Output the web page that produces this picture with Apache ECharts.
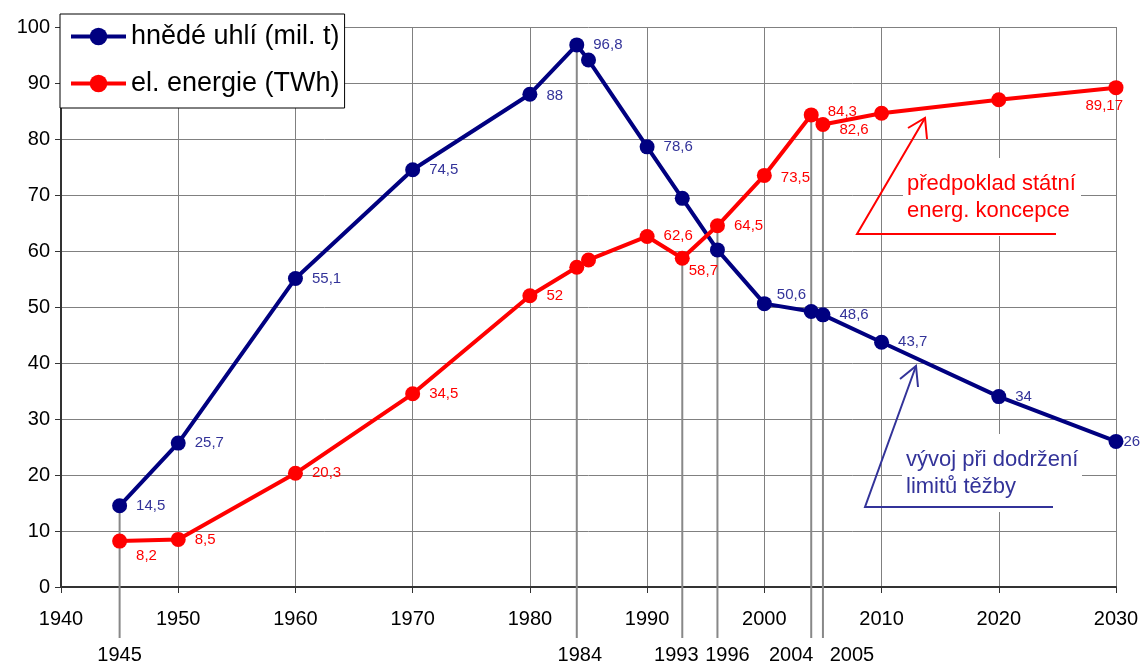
<!DOCTYPE html>
<html>
<head>
<meta charset="utf-8">
<script src="https://cdn.jsdelivr.net/npm/echarts@6/dist/echarts.min.js"></script>
<style>
html,body{margin:0;padding:0;background:#fff;}
#chart{width:1142px;height:664px;}
</style>
</head>
<body>
<div id="chart"></div>
<script>
// ---- data ----
const years = [1945, 1950, 1960, 1970, 1980, 1984, 1985, 1990, 1993, 1996, 2000, 2004, 2005, 2010, 2020, 2030];
const coal  = [14.5, 25.7, 55.1, 74.5, 88, 96.8, 94.1, 78.6, 69.4, 60.2, 50.6, 49.2, 48.6, 43.7, 34, 26];
const power = [8.2, 8.5, 20.3, 34.5, 52, 57.1, 58.4, 62.6, 58.7, 64.5, 73.5, 84.3, 82.6, 84.6, 87.0, 89.17];
const coalLabelYears  = [1945, 1950, 1960, 1970, 1980, 1984, 1990, 2000, 2005, 2010, 2020, 2030];
const powerLabelYears = [1945, 1950, 1960, 1970, 1980, 1990, 1993, 1996, 2000, 2004, 2005, 2030];
const markerYears = [1945, 1984, 1993, 1996, 2004, 2005];
const markerValues = [14.5, 96.8, 58.7, 64.5, 84.3, 82.6];
const seriesNames = ['hnědé uhlí (mil. t)', 'el. energie (TWh)'];
const noteRed = ['předpoklad státní', 'energ. koncepce'];
const noteBlue = ['vývoj při dodržení', 'limitů těžby'];

const FONT = 'Liberation Sans, Arial, sans-serif';
const BLUE = '#000080', BLUE_TXT = '#333399', RED = '#ff0000';
const fmt = v => String(v).replace('.', ',');

// per-label offsets (style only)
const coalOffsets = {1980: [0, 2], 2000: [-4, -9], 2030: [-9, 0]};
const powerOffsets = {1945: [0, 15], 1990: [0, -1], 1993: [-10, 13], 2000: [0, 2], 2004: [0, -3], 2005: [0, 5], 2030: [-47, 18]};
const bottomLabelShift = {1945: 0, 1984: 3, 1993: -6, 1996: 10, 2004: -20, 2005: 29};

function buildData(vals, labelYears, offsets, color) {
  return years.map((y, i) => {
    const show = labelYears.includes(y);
    const o = offsets[y] || [0, 0];
    return {
      value: [y, vals[i]],
      label: {show: show, position: 'right', distance: 9, offset: o, color: color,
              fontSize: 15, fontFamily: FONT, formatter: p => fmt(p.value[1])}
    };
  });
}

const chart = echarts.init(document.getElementById('chart'));
const option = {
  animation: false,
  backgroundColor: '#fff',
  grid: {left: 61, right: 26, top: 27, bottom: 77},
  legend: {
    left: 60, top: 14, orient: 'vertical',
    backgroundColor: '#fff', borderColor: '#000', borderWidth: 1,
    padding: [9, 5, 11, 9], itemGap: 20, itemWidth: 55, itemHeight: 22,
    lineStyle: {width: 4},
    textStyle: {fontSize: 27, fontFamily: FONT, color: '#000'},
    data: seriesNames
  },
  xAxis: {
    type: 'value', min: 1940, max: 2030, interval: 10,
    axisLine: {show: true, onZero: false, lineStyle: {color: '#333', width: 2}},
    axisTick: {show: true, length: 6, lineStyle: {color: '#333'}},
    axisLabel: {margin: 22, fontSize: 20, fontFamily: FONT, color: '#000', formatter: v => String(v)},
    splitLine: {show: true, lineStyle: {color: '#808080', width: 1}}
  },
  yAxis: {
    type: 'value', min: 0, max: 100, interval: 10,
    axisLine: {show: true, onZero: false, lineStyle: {color: '#333', width: 2}},
    axisTick: {show: true, length: 6, lineStyle: {color: '#333'}},
    axisLabel: {margin: 11, fontSize: 20, fontFamily: FONT, color: '#000'},
    splitLine: {show: true, lineStyle: {color: '#808080', width: 1}}
  },
  series: [
    {
      type: 'custom', name: 'markers', z: 1, silent: true, clip: false,
      data: markerYears.map((y, i) => [y, markerValues[i]]),
      renderItem: function (params, api) {
        const yr = api.value(0);
        const p = api.coord([yr, api.value(1)]);
        const base = params.coordSys.y + params.coordSys.height;
        return {
          type: 'group',
          children: [
            {type: 'line', shape: {x1: p[0], y1: p[1], x2: p[0], y2: base + 51},
             style: {stroke: '#888', lineWidth: 2}},
            {type: 'text', x: p[0] + (bottomLabelShift[yr] || 0), y: base + 68,
             style: {text: String(yr), fontSize: 20, fontFamily: FONT, fill: '#000',
                     align: 'center', verticalAlign: 'middle'}}
          ]
        };
      }
    },
    {
      name: seriesNames[0], type: 'line', z: 3,
      data: buildData(coal, coalLabelYears, coalOffsets, BLUE_TXT),
      symbol: 'circle', symbolSize: 15, showAllSymbol: true,
      lineStyle: {color: BLUE, width: 4}, itemStyle: {color: BLUE}
    },
    {
      name: seriesNames[1], type: 'line', z: 4,
      data: buildData(power, powerLabelYears, powerOffsets, RED),
      symbol: 'circle', symbolSize: 15, showAllSymbol: true,
      lineStyle: {color: RED, width: 4}, itemStyle: {color: RED}
    }
  ]
};
chart.setOption(option);

// annotations (text boxes with arrows)
function note(lines, color, box, arrow) {
  return [
    {type: 'rect', z: 5, shape: {x: box[0], y: box[1], width: box[2], height: box[3]},
     style: {fill: '#fff'}},
    {type: 'text', z: 6, x: box[0] + 4, y: box[1] + box[3] / 2,
     style: {text: lines.join('\n'), fill: color, fontSize: 22, fontFamily: FONT,
             lineHeight: 27, verticalAlign: 'middle'}},
    {type: 'polyline', z: 6, shape: {points: arrow.line},
     style: {stroke: color, lineWidth: 2, fill: null}},
    {type: 'polyline', z: 6, shape: {points: arrow.head},
     style: {stroke: color, lineWidth: 2, fill: null}}
  ];
}
chart.setOption({
  graphic: [].concat(
    note(noteRed, RED, [903, 158, 178, 78],
      {line: [[1056, 234], [857, 234], [925, 118]], head: [[908, 128], [925, 118], [927, 139]]}),
    note(noteBlue, BLUE_TXT, [902, 434, 180, 78],
      {line: [[1053, 507], [865, 507], [916, 366]], head: [[900, 379], [916, 366], [918, 387]]})
  )
});
</script>
</body>
</html>
